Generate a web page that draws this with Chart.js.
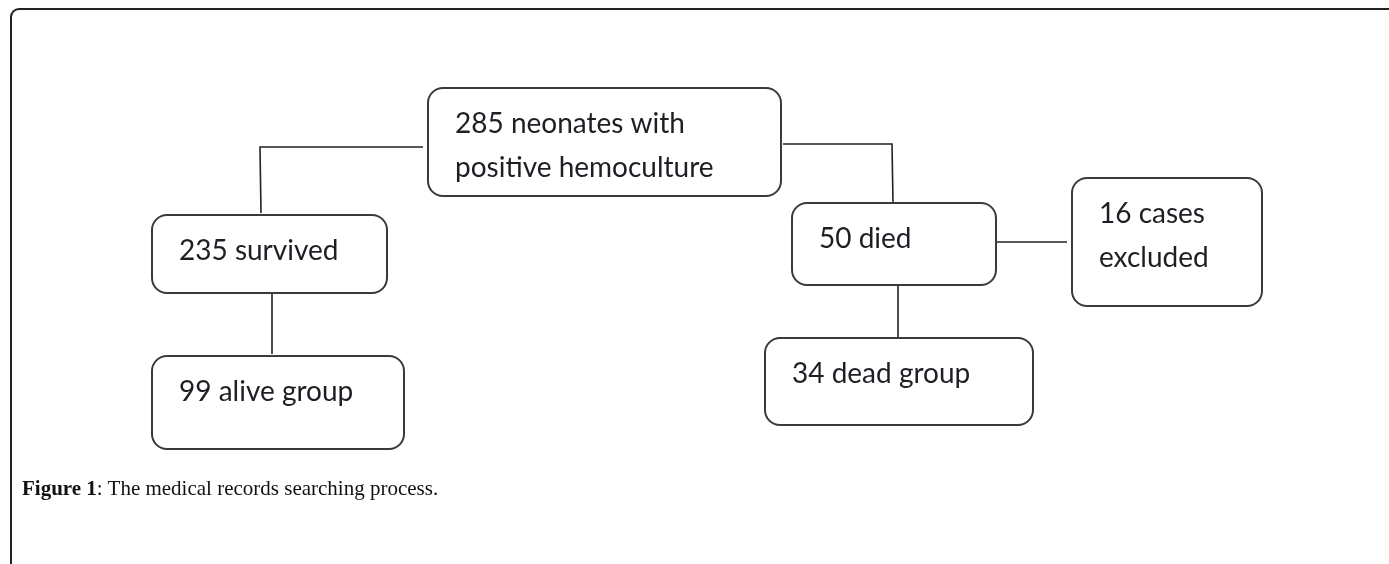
<!DOCTYPE html>
<html>
<head>
<meta charset="utf-8">
<script src="https://cdn.jsdelivr.net/npm/chart.js@4.4.1/dist/chart.umd.min.js"></script>
<style>
    html, body { margin: 0; padding: 0; background: #fff; }
    body { width: 1389px; height: 564px; position: relative; overflow: hidden; }
    #frame {
        position: absolute; left: 10px; top: 8px; right: -20px; bottom: -20px;
        border-top: 2px solid #222; border-left: 2px solid #222;
        border-top-left-radius: 9px;
    }
    #flow { position: absolute; left: 0; top: 0; }
    #caption {
        position: absolute; left: 22px; top: 476px;
        font-family: "Liberation Serif", "DejaVu Serif", serif;
        font-size: 21px; color: #111;
    }
</style>
</head>
<body>
<div id="frame"></div>
<canvas id="flow" width="1389" height="564"></canvas>
<div id="caption"><b>Figure 1</b>: The medical records searching process.</div>
<script>
// boxes of the flow chart (chart units = page pixels)
const boxLabels = [
    ['285 neonates with', 'positive hemoculture'],
    ['235 survived'],
    ['99 alive group'],
    ['50 died'],
    ['16 cases', 'excluded'],
    ['34 dead group']
];
const boxLeft   = [428, 152, 152, 792, 1072, 765];
const boxRight  = [781, 387, 404, 996, 1262, 1033];
const boxTop    = [88, 215, 356, 203, 178, 338];
const boxBottom = [196, 293, 449, 285, 306, 425];

// connector lines as lists of points
const connectors = [
    [{x: 423, y: 147}, {x: 260, y: 147}, {x: 261, y: 213}],
    [{x: 783, y: 144}, {x: 892, y: 144}, {x: 893, y: 203}],
    [{x: 996, y: 242}, {x: 1067, y: 242}],
    [{x: 272, y: 294}, {x: 272, y: 354}],
    [{x: 898, y: 286}, {x: 898, y: 337}]
];

const boxPlugin = {
    id: 'boxes',
    afterDatasetsDraw(chart) {
        const ctx = chart.ctx;
        const xs = chart.scales.x, ys = chart.scales.y;
        ctx.save();
        boxLabels.forEach((lines, i) => {
            const l = xs.getPixelForValue(boxLeft[i]);
            const r = xs.getPixelForValue(boxRight[i]);
            const t = ys.getPixelForValue(boxTop[i]);
            const b = ys.getPixelForValue(boxBottom[i]);
            ctx.beginPath();
            ctx.roundRect(l, t, r - l, b - t, 15);
            ctx.fillStyle = '#fff';
            ctx.fill();
            ctx.lineWidth = 2;
            ctx.strokeStyle = '#3a3a3a';
            ctx.stroke();

            ctx.fillStyle = '#1e1e24';
            ctx.font = '28px Lato, "Liberation Sans", sans-serif';
            ctx.textAlign = 'left';
            ctx.textBaseline = 'alphabetic';
            lines.forEach((txt, k) => {
                ctx.fillText(txt, l + 27, t + 45 + k * 44);
            });
        });
        ctx.restore();
    }
};

new Chart(document.getElementById('flow'), {
    type: 'scatter',
    data: {
        datasets: connectors.map(pts => ({
            data: pts,
            showLine: true,
            borderColor: '#222',
            borderWidth: 1.6,
            pointRadius: 0,
            tension: 0
        }))
    },
    options: {
        responsive: false,
        animation: false,
        layout: { padding: 0 },
        plugins: {
            legend: { display: false },
            tooltip: { enabled: false }
        },
        scales: {
            x: { type: 'linear', min: 0, max: 1389, display: false },
            y: { type: 'linear', min: 0, max: 564, reverse: true, display: false }
        }
    },
    plugins: [boxPlugin]
});
</script>
</body>
</html>
